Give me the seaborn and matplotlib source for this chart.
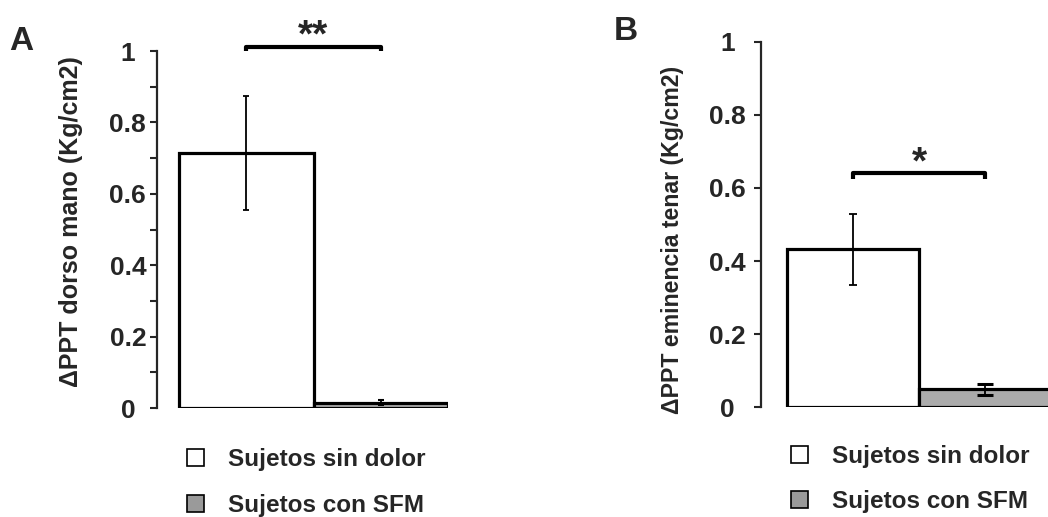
import numpy as np
import pandas as pd
import matplotlib
matplotlib.use("Agg")
import matplotlib.pyplot as plt
from matplotlib.patches import Patch
from matplotlib.ticker import MultipleLocator
import seaborn as sns

# ---- data ----
groups = ["Sujetos sin dolor", "Sujetos con SFM"]
dorso_mean = [0.715, 0.015]
dorso_err = [0.160, 0.007]
tenar_mean = [0.432, 0.049]
tenar_err = [0.097, 0.014]
yticks = [0, 0.2, 0.4, 0.6, 0.8, 1]
yticklabels = ["0", "0.2", "0.4", "0.6", "0.8", "1"]
sig_a = "**"
sig_b = "*"
ylabel_a = "\u0394PPT dorso mano (Kg/cm2)"
ylabel_b = "\u0394PPT eminencia tenar (Kg/cm2)"

sns.set_style("ticks")
plt.rcParams["font.family"] = ["Liberation Sans", "DejaVu Sans"]
plt.rcParams["font.weight"] = "bold"

W, H = 1048, 517
fig = plt.figure(figsize=(W / 100, H / 100), dpi=100)

colors = ["#ffffff", "#ababab"]


def px_axes(left, right, y0, y1):
    return fig.add_axes([left / W, (H - y0) / H, (right - left) / W, (y0 - y1) / H])


def panel(ax, means, errs, xlim, minor, caps, capth, pad):
    df = pd.DataFrame({"grupo": groups, "valor": means})
    sns.barplot(data=df, x="grupo", y="valor", hue="grupo", palette=colors,
                width=1.0, edgecolor="black", linewidth=2.3, errorbar=None,
                legend=False, ax=ax, zorder=2)
    for i in range(len(means)):
        ax.errorbar(i, means[i], yerr=errs[i], fmt="none", ecolor="black",
                    elinewidth=1.3, capsize=caps[i], capthick=capth[i], zorder=3)
    ax.set_xlim(*xlim)
    ax.set_ylim(0, 1)
    ax.set_yticks(yticks)
    ax.set_yticklabels(yticklabels, fontsize=19, fontweight="bold", ha="center")
    if minor:
        ax.yaxis.set_minor_locator(MultipleLocator(0.1))
        ax.tick_params(axis="y", which="minor", length=5, width=1.5, direction="out")
    ax.tick_params(axis="y", which="major", length=5, width=1.5, direction="out", pad=pad)
    ax.tick_params(axis="x", bottom=False, labelbottom=False)
    for s in ["top", "right", "bottom"]:
        ax.spines[s].set_visible(False)
    ax.spines["left"].set_linewidth(1.6)
    ax.set_xlabel("")
    ax.set_facecolor("none")


# ---- panel A ----
axA = px_axes(157, 448, 408, 51)
panel(axA, dorso_mean, dorso_err, (-0.664, 1.5), True, [2.5, 2.5], [1.3, 1.5], 16)
axA.set_ylabel(ylabel_a, fontsize=18, fontweight="bold")
axA.yaxis.set_label_coords(-0.254, 0.521)
axA.plot([0, 0, 1, 1], [1.0, 1.012, 1.012, 1.0], color="black", lw=3,
         clip_on=False, solid_capstyle="butt")
axA.text(0.5, 1.014, sig_a, ha="center", va="baseline", fontsize=28, fontweight="bold",
         clip_on=False)

# ---- panel B ----
axB = px_axes(761, 1048, 407.3, 41.7)
panel(axB, tenar_mean, tenar_err, (-0.697, 1.477), False, [3, 6], [1.3, 2.2], 19)
axB.set_ylabel(ylabel_b, fontsize=16.7, fontweight="bold")
axB.yaxis.set_label_coords(-0.27, 0.458)
axB.plot([0, 0, 1, 1], [0.625, 0.64, 0.64, 0.625], color="black", lw=3,
         clip_on=False, solid_capstyle="butt")
axB.text(0.5, 0.639, sig_b, ha="center", va="baseline", fontsize=28, fontweight="bold")

# ---- legends ----
for ax, xpos, ytop, spacing in [(axA, 188, 441, 0.95), (axB, 792, 438, 0.9)]:
    handles = [Patch(facecolor=c, edgecolor="black", linewidth=1.2) for c in ["#ffffff", "#9a9a9a"]]
    ax.legend(handles, groups, loc="upper left", bbox_to_anchor=((xpos - 8) / W, (H - ytop) / H),
              bbox_transform=fig.transFigure, frameon=False,
              prop={"weight": "bold", "size": 17.5}, handlelength=0.7, handleheight=0.7,
              handletextpad=0.99, labelspacing=spacing, borderaxespad=0, borderpad=0.3)

# ---- panel letters ----
fig.text(9 / W, 1 - 50 / H, "A", fontsize=24, fontweight="bold", ha="left", va="baseline")
fig.text(614 / W, 1 - 40 / H, "B", fontsize=24, fontweight="bold", ha="left", va="baseline")

fig.savefig("out.png", dpi=100)
